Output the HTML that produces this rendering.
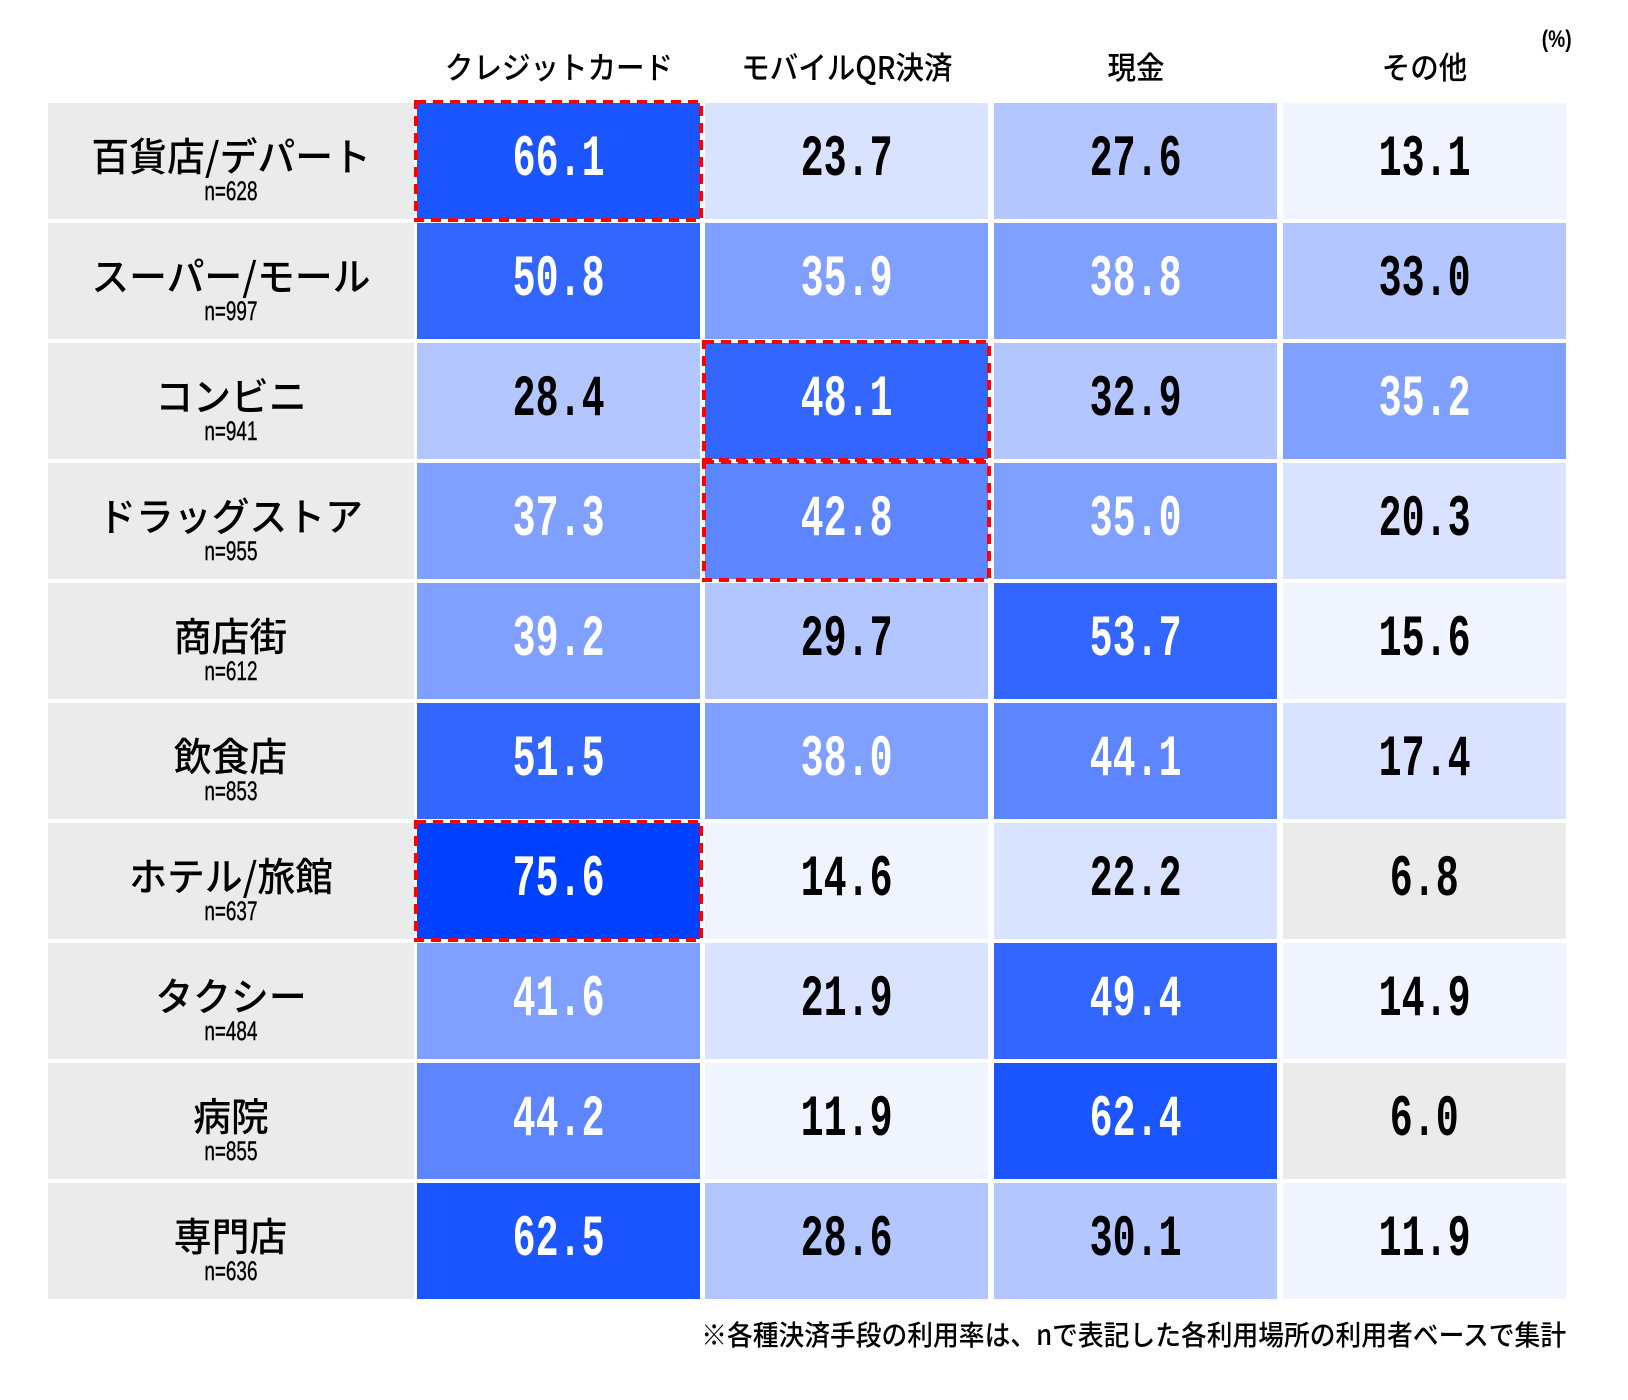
<!DOCTYPE html>
<html><head><meta charset="utf-8">
<style>
html,body{margin:0;padding:0;background:#fff;}
body{width:1628px;height:1400px;position:relative;overflow:hidden;font-family:"Liberation Sans","Noto Sans CJK JP",sans-serif;}
.a{position:absolute;}
.lab{position:absolute;left:48px;width:366px;height:116px;background:#ebebeb;}
.nm{position:absolute;left:0;width:100%;top:30px;text-align:center;font-size:39px;line-height:44px;height:44px;color:#000;font-weight:500;font-family:"Noto Sans CJK JP",sans-serif;}
.nm span{display:inline-block;transform:scaleX(0.97);}
.nn{position:absolute;left:0;width:100%;top:74px;text-align:center;font-size:27px;line-height:28px;color:#000;-webkit-text-stroke:0.4px #000;}
.nn span{display:inline-block;transform:scaleX(0.7);}
.c{position:absolute;width:283px;height:116px;text-align:center;line-height:116px;font-size:58px;font-family:"Liberation Mono",monospace;font-weight:700;}
.c span{display:inline-block;transform:scaleX(0.66);}
.k{color:#000;}
.w{color:#fff;}
.hd{position:absolute;top:44px;width:283px;text-align:center;font-size:31px;line-height:44px;color:#000;font-weight:500;font-family:"Noto Sans CJK JP",sans-serif;}
.hd span{display:inline-block;transform:scaleX(0.92);}
svg{position:absolute;left:0;top:0;}
</style></head><body>
<div class="hd" style="left:417px"><span>クレジットカード</span></div>
<div class="hd" style="left:705px"><span>モバイルQR決済</span></div>
<div class="hd" style="left:994px"><span>現金</span></div>
<div class="hd" style="left:1283px"><span>その他</span></div>
<div class="a" style="left:1538px;top:26px;font-size:24px;line-height:28px;font-weight:700;"><span style="display:inline-block;transform:scaleX(0.8)">(%)</span></div>

<div id="g"></div>

<div class="a" style="left:400px;width:1166px;top:1317px;text-align:right;font-size:28px;line-height:34px;color:#000;font-weight:500;font-family:'Noto Sans CJK JP',sans-serif;"><span style="display:inline-block;transform:scaleX(0.92);transform-origin:right center;">※各種決済手段の利用率は、nで表記した各利用場所の利用者ベースで集計</span></div>

<script>
var rows=[
["百貨店/デパート","n=628",[66.1,23.7,27.6,13.1]],
["スーパー/モール","n=997",[50.8,35.9,38.8,33.0]],
["コンビニ","n=941",[28.4,48.1,32.9,35.2]],
["ドラッグストア","n=955",[37.3,42.8,35.0,20.3]],
["商店街","n=612",[39.2,29.7,53.7,15.6]],
["飲食店","n=853",[51.5,38.0,44.1,17.4]],
["ホテル/旅館","n=637",[75.6,14.6,22.2,6.8]],
["タクシー","n=484",[41.6,21.9,49.4,14.9]],
["病院","n=855",[44.2,11.9,62.4,6.0]],
["専門店","n=636",[62.5,28.6,30.1,11.9]]];
function col(v){
 if(v>=70)return "#0040ff";
 if(v>=60)return "#1a55ff";
 if(v>=48)return "#3366ff";
 if(v>=42)return "#5c85ff";
 if(v>=35)return "#80a0ff";
 if(v>=25)return "#b3c6ff";
 if(v>=17)return "#d9e2ff";
 if(v>=10)return "#f0f4ff";
 return "#ebebeb";
}
var h="";
var xs=[417,705,994,1283];
for(var r=0;r<rows.length;r++){
 var y=103+r*120;
 h+='<div class="lab" style="top:'+y+'px"><div class="nm"><span>'+rows[r][0]+'</span></div><div class="nn"><span>'+rows[r][1]+'</span></div></div>';
 for(var c=0;c<4;c++){
  var v=rows[r][2][c];
  h+='<div class="c '+(v>=35?'w':'k')+'" style="left:'+xs[c]+'px;top:'+y+'px;background:'+col(v)+'"><span>'+v.toFixed(1)+'</span></div>';
 }
}
var bx=[[0,0],[2,1],[3,1],[6,0]];
var s='<svg width="1628" height="1400">';
for(var i=0;i<bx.length;i++){
 var y=103+bx[i][0]*120, x=xs[bx[i][1]];
 s+='<rect x="'+(x-1)+'" y="'+(y-1)+'" width="285" height="118" fill="none" stroke="#ff0000" stroke-width="4" stroke-dasharray="10,7"/>';
}
s+='</svg>';
h+=s;
document.getElementById("g").innerHTML=h;
</script>
</body></html>
